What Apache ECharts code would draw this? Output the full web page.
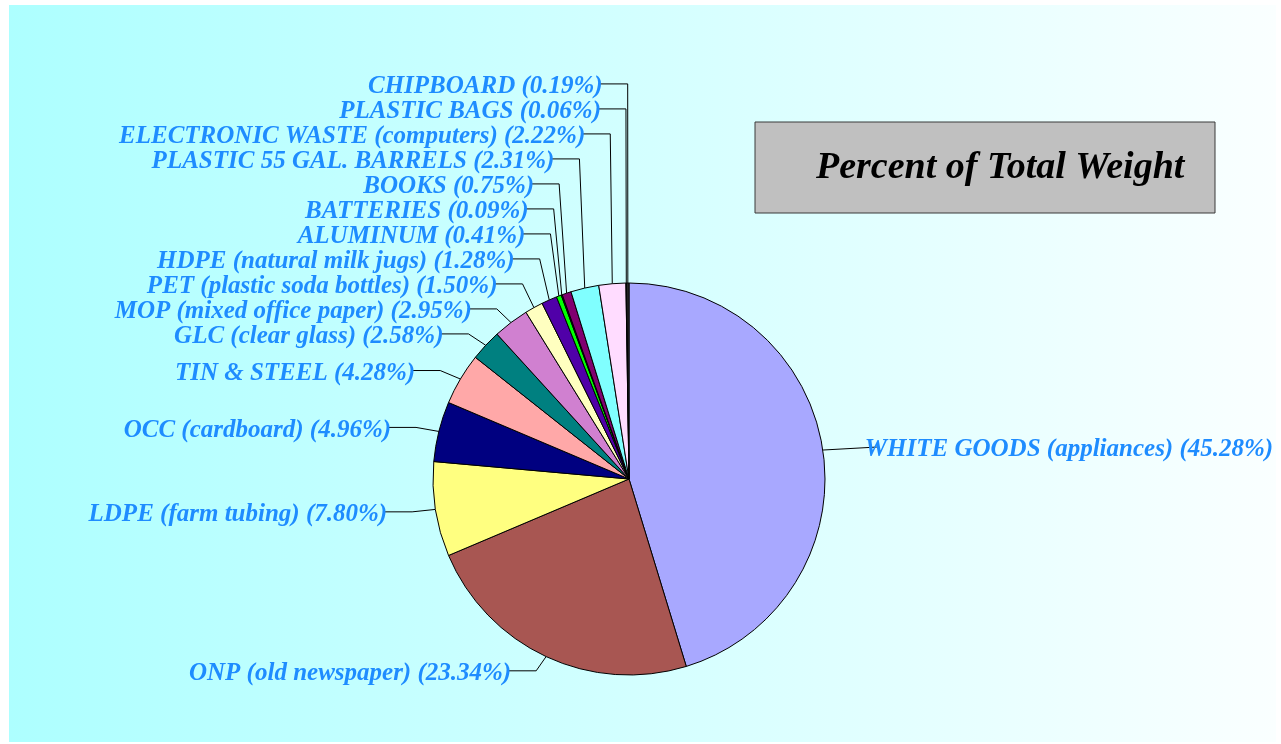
<!DOCTYPE html>
<html>
<head>
<meta charset="utf-8">
<script src="https://cdn.jsdelivr.net/npm/echarts@6/dist/echarts.min.js"></script>
<style>
html,body{margin:0;padding:0;background:#ffffff;}
#chart{width:1281px;height:744px;}
</style>
</head>
<body>
<div id="chart"></div>
<script>
// ---- data ----
var categories = [
  'WHITE GOODS (appliances)',
  'ONP (old newspaper)',
  'LDPE (farm tubing)',
  'OCC (cardboard)',
  'TIN & STEEL',
  'GLC (clear glass)',
  'MOP (mixed office paper)',
  'PET (plastic soda bottles)',
  'HDPE (natural milk jugs)',
  'ALUMINUM',
  'BATTERIES',
  'BOOKS',
  'PLASTIC 55 GAL. BARRELS',
  'ELECTRONIC WASTE (computers)',
  'PLASTIC BAGS',
  'CHIPBOARD'
];
var percents = [45.28, 23.34, 7.80, 4.96, 4.28, 2.58, 2.95, 1.50, 1.28, 0.41, 0.09, 0.75, 2.31, 2.22, 0.06, 0.19];
var sliceColors = ['#A8A8FF','#A85652','#FFFF80','#000080','#FFA8A8','#008080','#D080D0','#FFFFC0',
                   '#5000A8','#00FF00','#203040','#800070','#80FFFF','#FFDCFF','#404080','#303030'];
var chartTitle = 'Percent of Total Weight';

// ---- layout ----
var CX = 629, CY = 479, R = 196;
var TEXT_DY = 3;
var total = percents.reduce(function(a,b){return a+b;},0);
var edges = [];
var acc = 0;
percents.forEach(function(v){
  var mid = (acc + v/2) / total * Math.PI * 2; // clockwise from top
  acc += v;
  edges.push([CX + R*Math.sin(mid), CY - R*Math.cos(mid)]);
});
var labelPos = [];
var targets = edges.map(function(e){
  if (e[1] < CY) return e[1] - (CY - e[1]) * 0.085;
  return e[1] + (e[1] - CY) * 0.08;
});
var upperLeft = [];
edges.forEach(function(e,i){ if (e[0] < CX && e[1] < CY) upperLeft.push(i); });
upperLeft.sort(function(a,b){ return edges[b][1] - edges[a][1]; });
var GAP = 25;
var prevY = null;
var finalY = targets.slice();
upperLeft.forEach(function(i){
  var y = targets[i];
  if (prevY !== null) y = Math.min(y, prevY - GAP);
  finalY[i] = y; prevY = y;
});
edges.forEach(function(e,i){
  var y = finalY[i];
  if (e[0] < CX) {
    var elbowX = e[0] - (CX - e[0]) * 0.12;
    var lx = elbowX - 25;
    labelPos.push({x: lx, y: y + TEXT_DY, align: 'right', pts: [[e[0],e[1]],[elbowX,y],[lx-4,y]]});
  } else {
    var yy = e[1] - 3;
    var lx2 = e[0] + 42;
    labelPos.push({x: lx2, y: yy + TEXT_DY, align: 'left', pts: [[e[0],e[1]],[lx2+12,yy],[lx2+12,yy]]});
  }
});

var chart = echarts.init(document.getElementById('chart'), null, {renderer:'canvas'});
var option = {
  animation: false,
  graphic: [
    {type:'rect', z:-10, silent:true, shape:{x:9,y:5,width:1267,height:737},
     style:{fill:{type:'linear',x:0,y:0,x2:1,y2:0,colorStops:[{offset:0,color:'#ADFFFF'},{offset:1,color:'#FAFFFF'}]}}},
    {type:'rect', z:10, shape:{x:755,y:122,width:460,height:91},
     style:{fill:'#C0C0C0', stroke:'#3A3A3A', lineWidth:1}},
    {type:'text', z:11, x:816, y:168,
     style:{text: chartTitle, fill:'#000000', font:'italic bold 38px "Liberation Serif"', textAlign:'left', textVerticalAlign:'middle'}}
  ],
  series: [{
    type: 'pie',
    center: [CX, CY],
    radius: [0, R],
    startAngle: 90,
    clockwise: true,
    avoidLabelOverlap: false,
    minAngle: 0,
    itemStyle: {borderColor:'#000000', borderWidth:1},
    emphasis: {disabled:true},
    label: {
      show: true,
      position: 'outside',
      color: '#1E8CFF',
      fontFamily: 'Liberation Serif',
      fontStyle: 'italic',
      fontWeight: 'bold',
      fontSize: 25,
      formatter: function(p){ return p.name + ' (' + p.value.toFixed(2) + '%)'; }
    },
    labelLine: {show:true, smooth:false, lineStyle:{color:'#000000', width:1}},
    labelLayout: function(p){
      var L = labelPos[p.dataIndex];
      return {x: L.x, y: L.y, align: L.align, verticalAlign: 'middle', labelLinePoints: L.pts, hideOverlap:false};
    },
    data: categories.map(function(c,i){
      return {name: c, value: percents[i], itemStyle:{color: sliceColors[i]}};
    })
  }]
};
chart.setOption(option);
</script>
</body>
</html>
